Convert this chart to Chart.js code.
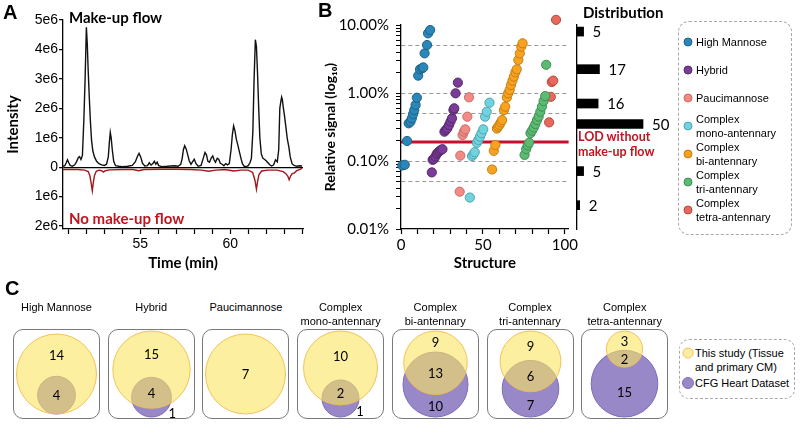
<!DOCTYPE html>
<html>
<head>
<meta charset="utf-8">
<script src="https://cdn.jsdelivr.net/npm/chart.js@4.4.1/dist/chart.umd.min.js"></script>
<style>
html,body{margin:0;padding:0;background:#fff;}
#fig{position:relative;width:800px;height:426px;overflow:hidden;background:#fff;font-family:"Liberation Sans",Arial,sans-serif;color:#000;}
#fig canvas{position:absolute;}
.lbl{position:absolute;white-space:nowrap;line-height:1;transform:translateY(-50%);}
.ctr{transform:translate(-50%,-50%);text-align:center;}
.box{position:absolute;box-sizing:border-box;border:1.3px solid #7a7a7a;border-radius:10px;}
.dash{position:absolute;box-sizing:border-box;border:1px dashed #a8a8a8;border-radius:11px;}
.dot{position:absolute;border-radius:50%;box-sizing:border-box;transform:translate(-50%,-50%);}
</style>
</head>
<body>
<div id="fig">
  <canvas id="chA" width="310" height="280" style="left:0;top:0"></canvas>
  <canvas id="chB" width="270" height="280" style="left:310px;top:0"></canvas>
  <canvas id="chD" width="105" height="280" style="left:575px;top:0"></canvas>
</div>
<script>
// ================= DATA =================
// Panel A: extracted ion chromatograms (intensity in millions)
const timeMakeUp = [50.70,50.80,50.88,50.95,51.02,51.10,51.22,51.35,51.45,51.55,51.62,51.70,51.78,51.86,51.93,52.00,52.05,52.10,52.16,52.22,52.29,52.36,52.45,52.57,52.70,52.85,53.00,53.12,53.22,53.28,53.33,53.38,53.44,53.52,53.62,53.80,54.00,54.30,54.55,54.72,54.85,54.93,55.02,55.12,55.25,55.40,55.50,55.60,55.70,55.78,55.86,55.94,56.02,56.20,56.50,56.70,56.90,57.10,57.25,57.33,57.40,57.47,57.55,57.64,57.72,57.82,57.92,58.00,58.10,58.22,58.38,58.50,58.60,58.68,58.76,58.85,58.95,59.03,59.10,59.18,59.28,59.36,59.45,59.55,59.65,59.75,59.85,59.95,60.05,60.12,60.19,60.26,60.34,60.43,60.52,60.60,60.68,60.78,60.90,61.00,61.10,61.18,61.26,61.33,61.40,61.46,61.52,61.58,61.65,61.73,61.82,61.90,62.00,62.10,62.20,62.30,62.42,62.52,62.62,62.70,62.76,62.81,62.86,62.90,62.95,63.02,63.10,63.18,63.26,63.34,63.44,63.55,63.70,63.85,64.00];
const intensityMakeUp = [0.03,0.05,0.15,0.25,0.15,0.06,0.03,0.08,0.18,0.32,0.36,0.26,0.40,1.60,3.00,4.75,4.20,3.30,2.40,1.60,0.90,0.55,0.35,0.20,0.12,0.08,0.06,0.10,0.35,0.85,1.18,1.00,0.60,0.20,0.05,0.03,0.02,0.03,0.06,0.18,0.38,0.47,0.35,0.14,0.04,0.05,0.15,0.07,0.12,0.20,0.10,0.17,0.05,0.02,0.03,0.04,0.05,0.03,0.10,0.30,0.60,0.73,0.62,0.42,0.22,0.10,0.20,0.27,0.12,0.03,0.06,0.30,0.50,0.42,0.20,0.17,0.32,0.38,0.25,0.17,0.30,0.27,0.13,0.10,0.05,0.12,0.08,0.12,0.60,1.10,1.40,1.25,0.95,0.74,0.50,0.30,0.12,0.03,0.02,0.05,0.15,0.30,1.20,3.00,4.33,4.10,3.20,2.10,1.00,0.45,0.30,0.27,0.22,0.15,0.08,0.04,0.08,0.25,0.18,0.60,2.00,2.20,2.38,2.30,2.05,1.75,1.35,0.95,0.70,0.35,0.12,0.06,0.03,0.05,0.04];
const timeNoMakeUp = [50.70,51.00,51.50,51.90,52.10,52.20,52.28,52.33,52.38,52.45,52.55,52.70,52.85,52.95,53.05,53.30,54.00,54.60,54.90,55.20,56.00,57.00,57.80,58.40,58.80,59.20,59.70,60.20,60.60,61.00,61.25,61.38,61.46,61.52,61.60,61.75,62.10,62.60,62.95,63.10,63.20,63.28,63.36,63.45,63.55,63.70,63.85,64.00];
const intensityNoMakeUp = [0.08,0.08,0.08,0.10,0.15,0.30,0.60,0.80,0.55,0.28,0.14,0.10,0.12,0.17,0.12,0.09,0.08,0.08,0.12,0.08,0.07,0.07,0.08,0.10,0.14,0.10,0.08,0.13,0.10,0.10,0.18,0.45,0.75,0.50,0.25,0.13,0.10,0.10,0.15,0.22,0.30,0.43,0.30,0.22,0.20,0.12,0.08,0.04];
const intensityTickValues = [-2,-1,0,1,2,3,4,5];
const intensityTickLabels = ['2e6','1e6','0','1e6','2e6','3e6','4e6','5e6'];
const timeTickLabels = [55,60];

// Panel B: relative signal (%) per structure, by glycan class
const hmStructure = [0.8,2.3,3.7,4.7,5.8,6.6,7.4,8.1,8.9,9.7,10.5,11.6,13.0,13.6,14.4,15.9,16.5,17.8];
const hmSignal    = [0.086,0.088,0.197,0.358,0.379,0.424,0.49,0.562,0.667,0.853,1.8,2.23,2.31,2.38,3.83,5.08,7.54,8.44];
const hybStructure = [18.8,19.3,20.1,21.0,21.8,22.6,23.4,24.3,25.3,26.5,27.4,28.3,29.3,30.2,31.1,32.0,32.5,33.3,34.7];
const hybSignal    = [0.068,0.104,0.107,0.116,0.127,0.133,0.139,0.145,0.149,0.27,0.286,0.302,0.338,0.379,0.424,0.562,0.596,0.989,1.42];
const pauciStructure = [35.8,36.2,37.6,38.4,39.2,40.5,41.5];
const pauciSignal    = [0.0354,0.12,0.241,0.27,0.292,0.449,0.864];
const monoStructure = [42.0,43.3,44.2,45.0,46.3,47.2,48.2,49.1,50.2,51.3,52.3,54.0];
const monoSignal    = [0.029,0.118,0.125,0.135,0.185,0.204,0.228,0.256,0.292,0.449,0.53,0.72];
const biStructure = [55.6,56.6,57.6,58.5,59.3,60.1,60.9,61.7,62.8,63.6,64.6,65.4,66.3,67.1,68.0,68.9,69.8,70.6,71.6,72.5,73.4,74.2];
const biSignal    = [0.075,0.141,0.172,0.30,0.32,0.34,0.37,0.40,0.56,0.63,0.86,0.99,1.11,1.31,1.52,1.74,2.02,2.23,3.06,3.83,4.8,5.38];
const triStructure = [75.4,76.4,77.3,78.2,79.0,80.0,81.0,82.0,83.0,84.0,85.0,86.0,87.0,88.0,88.6];
const triSignal    = [0.123,0.15,0.17,0.186,0.256,0.28,0.31,0.35,0.40,0.45,0.53,0.63,0.76,0.90,2.6];
const tetraStructure = [90.4,91.4,92.0,92.9,94.6];
const tetraSignal    = [0.37,0.88,1.45,1.52,11.9];
const classNames = ['High Mannose','Hybrid','Paucimannose','Complex mono-antennary','Complex bi-antennary','Complex tri-antennary','Complex tetra-antennary'];
const structureTickLabels = [0,50,100];
const signalTickValues = [0.01,0.1,1,10];
const signalTickLabels = ['0.01%','0.10%','1.00%','10.00%'];
const dashedLevels = [0.05,0.1,0.5,1,5];
const lodLevel = 0.19;

// Distribution of signals
const distBinCenters = [8,2.24,0.70,0.35,0.071,0.0224];
const distCounts = [5,17,16,50,5,2];

// Panel C: overlap with CFG heart dataset
const thisStudyOnly = [14,15,7,10,9,9,3];
const sharedWithCFG = [4,4,0,2,13,6,2];
const cfgHeartOnly  = [0,1,0,1,10,7,15];

// ================= STYLE =================
const CAL = 'Lato, "Open Sans", sans-serif';
const ARI = '"Liberation Sans", Arial, sans-serif';
const RED = '#C0141E';
const classFill = ['#2B87B8','#7A3C98','#F28B86','#72D3DE','#F8A220','#5CBB72','#E8695C'];
const classEdge = ['#1E6288','#55296B','#C86A66','#48A6B1','#C47E12','#3E8E52','#B04A40'];
const fig = document.getElementById('fig');

Chart.defaults.animation = false;
Chart.defaults.events = [];
Chart.defaults.plugins.legend.display = false;
Chart.defaults.plugins.tooltip.enabled = false;
Chart.defaults.color = '#000';

function addText(txt, x, y, css, center) {
  const d = document.createElement('div');
  d.className = 'lbl' + (center ? ' ctr' : '');
  d.textContent = txt;
  d.style.left = x + 'px'; d.style.top = y + 'px';
  Object.assign(d.style, css || {});
  fig.appendChild(d);
  return d;
}
function addDiv(cls, x, y, w, h, css) {
  const d = document.createElement('div');
  d.className = cls;
  Object.assign(d.style, {left: x + 'px', top: y + 'px', width: w + 'px', height: h + 'px'}, css || {});
  fig.appendChild(d);
  return d;
}
const near = (a, b) => Math.abs(a - b) < Math.abs(b) * 1e-6 + 1e-12;

// ================= PANEL A =================
new Chart(document.getElementById('chA'), {
  type: 'line',
  data: { datasets: [
    { data: timeMakeUp.map((t, i) => ({x: t, y: intensityMakeUp[i]})), borderColor: '#111', borderWidth: 1.4, pointRadius: 0, tension: 0 },
    { data: timeNoMakeUp.map((t, i) => ({x: t, y: -intensityNoMakeUp[i]})), borderColor: '#A3161B', borderWidth: 1.4, pointRadius: 0, tension: 0 }
  ]},
  options: {
    responsive: false, maintainAspectRatio: false,
    layout: {padding: {top: 20, right: 7, left: 0, bottom: 0}},
    scales: {
      x: { type: 'linear', min: 50.7, max: 64.05,
        afterFit: s => { s.height = 51; },
        ticks: {stepSize: 1, includeBounds: false, autoSkip: false, maxRotation: 0, padding: 2,
                font: {family: ARI, size: 14}, callback: v => timeTickLabels.includes(v) ? String(v) : ''},
        grid: {drawOnChartArea: false, drawTicks: true, tickLength: 5, tickColor: '#000', tickWidth: 1.2},
        border: {color: '#000', width: 1.3},
        title: {display: true, text: 'Time (min)', font: {family: CAL, size: 15, weight: 'bold'}, padding: {top: 0, bottom: 8}} },
      y: { type: 'linear', min: -2.1, max: 5,
        afterFit: s => { s.width = 63; },
        afterBuildTicks: s => { s.ticks = intensityTickValues.map(v => ({value: v})); },
        ticks: {autoSkip: false, padding: 1, font: {family: ARI, size: 14}, callback: (v, i) => intensityTickLabels[i]},
        grid: {drawOnChartArea: true, color: c => (c.tick && c.tick.value === 0) ? '#000' : 'rgba(0,0,0,0)', lineWidth: 1.3,
               tickLength: 4, tickColor: '#000', tickWidth: 1.2},
        border: {color: '#000', width: 1.3},
        title: {display: true, text: 'Intensity', font: {family: CAL, size: 15, weight: 'bold'}, padding: {top: 4, bottom: 0}} }
    }
  }
});
addText('A', 3, 12, {font: 'bold 20px ' + ARI});
addText('Make-up flow', 69, 17, {font: 'bold 15px ' + CAL});
addText('No make-up flow', 69, 218, {font: 'bold 15px ' + CAL, color: RED});

// ================= PANEL B =================
const classStructures = [hmStructure, hybStructure, pauciStructure, monoStructure, biStructure, triStructure, tetraStructure];
const classSignals = [hmSignal, hybSignal, pauciSignal, monoSignal, biSignal, triSignal, tetraSignal];
const bDatasets = classNames.map((n, k) => ({
  label: n,
  data: classStructures[k].map((x, i) => ({x: x, y: classSignals[k][i]})),
  backgroundColor: classFill[k], borderColor: classEdge[k], borderWidth: 1,
  pointRadius: 4.6, clip: false, order: 1
}));
bDatasets.push({label: 'LOD', data: [{x: 0, y: lodLevel}, {x: 102.3, y: lodLevel}], showLine: true,
  borderColor: '#C8102E', borderWidth: 3, pointRadius: 0, order: 5, clip: false});

new Chart(document.getElementById('chB'), {
  type: 'scatter',
  data: {datasets: bDatasets},
  options: {
    responsive: false, maintainAspectRatio: false,
    layout: {padding: {top: 25, right: 3, left: 0, bottom: 0}, autoPadding: false},
    scales: {
      x: { type: 'linear', min: 0, max: 102.3,
        afterFit: s => { s.height = 51; },
        ticks: {stepSize: 10, includeBounds: false, autoSkip: false, maxRotation: 0, padding: 2,
                font: {family: CAL, size: 15}, callback: v => structureTickLabels.includes(v) ? String(v) : ''},
        grid: {drawOnChartArea: false, tickLength: 5, tickColor: '#000', tickWidth: 1.2},
        border: {color: '#000', width: 1.3},
        title: {display: true, text: 'Structure', font: {family: CAL, size: 15, weight: 'bold'}, padding: {top: 0, bottom: 8}} },
      y: { type: 'logarithmic', min: 0.01, max: 10,
        afterFit: s => { s.width = 91; },
        afterBuildTicks: s => {
          const t = [];
          for (let e = -2; e <= 0; e++) for (let m = 1; m <= 9; m++) t.push(+(m * Math.pow(10, e)).toPrecision(3));
          t.push(10);
          s.ticks = t.map(v => ({value: v}));
        },
        ticks: {autoSkip: false, padding: 7, font: {family: CAL, size: 15},
                callback: v => { const k = signalTickValues.findIndex(t => near(v, t)); return k >= 0 ? signalTickLabels[k] : ''; }},
        grid: {drawOnChartArea: true, lineWidth: 1,
               color: c => (c.tick && dashedLevels.some(l => near(c.tick.value, l))) ? '#9a9a9a' : 'rgba(0,0,0,0)',
               tickLength: 5, tickColor: '#000', tickWidth: 1},
        border: {color: '#000', width: 1.3, dash: [4, 3]},
        title: {display: true, text: 'Relative signal (log₁₀)', font: {family: CAL, size: 14, weight: 'bold'}, padding: {top: 12, bottom: 0}} }
    }
  }
});
addText('B', 318, 10, {font: 'bold 20px ' + ARI});

// Distribution bars
const barValuePlugin = {
  id: 'barValues',
  afterDatasetsDraw(chart) {
    const ctx = chart.ctx, meta = chart.getDatasetMeta(0);
    ctx.save();
    ctx.font = '15px ' + CAL; ctx.fillStyle = '#000'; ctx.textBaseline = 'middle'; ctx.textAlign = 'left';
    meta.data.forEach((el, i) => ctx.fillText(String(distCounts[i]), el.x + 9, el.y + 1));
    ctx.restore();
  }
};
new Chart(document.getElementById('chD'), {
  type: 'bar',
  data: {datasets: [{data: distCounts.map((n, i) => ({x: n, y: distBinCenters[i]})), backgroundColor: '#000', barThickness: 9, borderWidth: 0}]},
  options: {
    indexAxis: 'y', responsive: false, maintainAspectRatio: false,
    layout: {padding: {top: 25, bottom: 51, left: 2, right: 0}},
    scales: {
      x: {type: 'linear', min: 0, max: 78, display: false},
      y: {type: 'logarithmic', min: 0.01, max: 10, afterFit: s => { s.width = 0; },
          ticks: {display: false}, grid: {display: false}, border: {display: true, color: '#000', width: 1.3}}
    }
  },
  plugins: [barValuePlugin]
});
addText('Distribution', 583, 12, {font: 'bold 15px ' + CAL});
addText('LOD without', 578, 136, {font: 'bold 12.5px ' + CAL, color: RED});
addText('make-up flow', 578, 151, {font: 'bold 12.5px ' + CAL, color: RED});

// Legend B
addDiv('dash', 678, 21, 114, 214);
classNames.forEach((n, k) => {
  const cy = 41.7 + k * 28.1;
  addDiv('dot', 688, cy, 9, 9, {background: classFill[k], border: '1px solid ' + classEdge[k]});
  const lines = n.startsWith('Complex ') ? ['Complex', n.slice(8)] : [n];
  lines.forEach((ln, j) => addText(ln, 696, cy + (j - (lines.length - 1) / 2) * 14, {font: '11px ' + ARI}));
});

// ================= PANEL C =================
addText('C', 5, 288, {font: 'bold 20px ' + ARI});
function lensArea(r1, r2, d) {
  if (d >= r1 + r2) return 0;
  if (d <= Math.abs(r1 - r2)) return Math.PI * Math.min(r1, r2) ** 2;
  const a = r1 * r1 * Math.acos((d * d + r1 * r1 - r2 * r2) / (2 * d * r1));
  const b = r2 * r2 * Math.acos((d * d + r2 * r2 - r1 * r1) / (2 * d * r2));
  const c = 0.5 * Math.sqrt((-d + r1 + r2) * (d + r1 - r2) * (d - r1 + r2) * (d + r1 + r2));
  return a + b - c;
}
function solveDistance(r1, r2, overlap) {
  if (overlap >= Math.min(r1, r2) ** 2 - 1e-9) return Math.abs(r1 - r2);
  const target = Math.PI * overlap;
  let lo = Math.abs(r1 - r2), hi = r1 + r2;
  for (let k = 0; k < 60; k++) { const mid = (lo + hi) / 2; if (lensArea(r1, r2, mid) > target) lo = mid; else hi = mid; }
  return (lo + hi) / 2;
}
const BW = 87, BH = 90, BTOP = 329;
classNames.forEach((n, i) => {
  const left = 13 + i * 94.7;
  const lines = n.startsWith('Complex ') ? ['Complex', n.slice(8)] : [n];
  lines.forEach((ln, j) => addText(ln, left + BW / 2, 307 + j * 14, {font: '11px ' + ARI}, true));
  addDiv('box', left, BTOP, BW, BH);
  const cv = document.createElement('canvas');
  cv.width = BW; cv.height = BH; cv.style.left = left + 'px'; cv.style.top = BTOP + 'px';
  fig.appendChild(cv);

  // area-proportional two-set Venn: circle areas ~ set sizes, lens area ~ shared count
  const a = thisStudyOnly[i] + sharedWithCFG[i], b = cfgHeartOnly[i] + sharedWithCFG[i], o = sharedWithCFG[i];
  const ra = Math.sqrt(a), rb = Math.sqrt(b);
  const d = b > 0 ? solveDistance(ra, rb, o) : 0;
  const top = ra, bottom = b > 0 ? Math.min(-ra, -d - rb) : -ra;
  const halfW = Math.max(ra, rb);
  const s = Math.min(80 / (2 * halfW), 86 / (top - bottom));   // px per unit (scale fit into box)
  const midY = (top + bottom) / 2;

  const labels = [];
  if (b > 0) {
    const bTop = -d + rb, bBot = -d - rb;
    if (thisStudyOnly[i] > 0) labels.push({t: thisStudyOnly[i], x: 0, y: (top + bTop) / 2});
    if (o > 0) labels.push({t: o, x: 0, y: (bTop + Math.max(-ra, bBot)) / 2});
    if (cfgHeartOnly[i] > 0) {
      const thick = (-ra - bBot) * s;
      if (thick < 14) labels.push({t: cfgHeartOnly[i], x: rb + 1 / s, y: (-ra + bBot) / 2});
      else labels.push({t: cfgHeartOnly[i], x: 0, y: (-ra + bBot) / 2});
    }
  } else {
    labels.push({t: thisStudyOnly[i], x: 0, y: 0});
  }
  const labelPlugin = {
    id: 'vennNumbers' + i,
    afterDatasetsDraw(chart) {
      const ctx = chart.ctx, sx = chart.scales.x, sy = chart.scales.y;
      ctx.save();
      ctx.font = '13px ' + CAL; ctx.fillStyle = '#000'; ctx.textAlign = 'center'; ctx.textBaseline = 'middle';
      labels.forEach(l => ctx.fillText(String(l.t), sx.getPixelForValue(l.x), sy.getPixelForValue(l.y) + 1));
      ctx.restore();
    }
  };
  const ds = [{label: 'This study (Tissue and primary CM)', data: [{x: 0, y: 0, r: ra * s}],
               backgroundColor: 'rgba(250,228,95,0.6)', borderColor: 'rgba(240,188,80,0.9)', borderWidth: 1, clip: false}];
  if (b > 0) ds.push({label: 'CFG Heart Dataset', data: [{x: 0, y: -d, r: rb * s}],
               backgroundColor: 'rgb(152,136,200)', borderColor: 'rgb(126,106,184)', borderWidth: 1, clip: false});
  new Chart(cv, {
    type: 'bubble',
    data: {datasets: ds},
    options: {
      responsive: false, maintainAspectRatio: false,
      layout: {padding: 0, autoPadding: false},
      scales: {
        x: {type: 'linear', min: -BW / 2 / s, max: BW / 2 / s, display: false},
        y: {type: 'linear', min: midY - BH / 2 / s, max: midY + BH / 2 / s, display: false}
      }
    },
    plugins: [labelPlugin]
  });
});

// Legend C
addDiv('dash', 679, 339, 116, 60, {borderRadius: '10px'});
addDiv('dot', 688, 353, 11, 11, {background: 'rgb(252,238,160)', border: '1px solid rgb(240,190,90)'});
addText('This study (Tissue', 695, 353, {font: '11px ' + ARI});
addText('and primary CM)', 695, 367, {font: '11px ' + ARI});
addDiv('dot', 688, 383, 12, 12, {background: 'rgb(152,136,200)', border: '1px solid rgb(126,106,184)'});
addText('CFG Heart Dataset', 695, 383, {font: '11px ' + ARI});
</script>
</body>
</html>
